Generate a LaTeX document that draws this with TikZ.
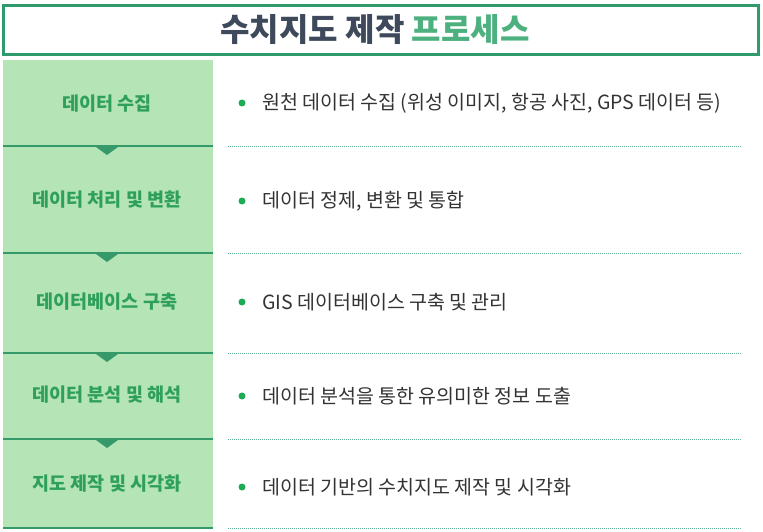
\documentclass[tikz,border=0pt]{standalone}
\usepackage{fontspec}
\setmainfont{Noto Sans CJK KR}
\definecolor{titleborder}{HTML}{2F9A6B}
\definecolor{titledark}{HTML}{3E4A5B}
\definecolor{titlegreen}{HTML}{4DB07F}
\definecolor{cellfill}{HTML}{B5E4B7}
\definecolor{linegreen}{HTML}{35996A}
\definecolor{labelgreen}{HTML}{2FA05C}
\definecolor{bulletgreen}{HTML}{1FAA55}
\definecolor{desctext}{HTML}{333333}
\definecolor{dotgreen}{HTML}{5DB09A}
\tikzset{
  rowlabel/.style={font=\fontsize{18.5}{22}\selectfont\bfseries, text=labelgreen, inner sep=0pt},
  desc/.style={font=\fontsize{19.5}{23}\selectfont, text=desctext, anchor=west, inner sep=0pt},
  bulletdot/.style={circle, fill=bulletgreen, minimum size=7pt, inner sep=0pt},
  sepline/.style={draw=linegreen, line width=2pt},
  dotline/.style={draw=dotgreen, line width=0.5pt, dash pattern=on 1.2pt off 0.8pt},
  tri/.style={fill=linegreen},
}
\begin{document}
\begin{tikzpicture}[x=1pt,y=-1pt]
\useasboundingbox (0,0) rectangle (763,532);
\fill[white] (0,0) rectangle (763,532);
% title
\node[draw=titleborder, line width=3pt, minimum width=755pt, minimum height=49pt, inner sep=0pt] (titlebox) at (381,30) {};
\node[inner sep=0pt] (title) at (375,30)
  {\fontsize{32}{36}\selectfont\bfseries\textcolor{titledark}{수치지도 제작} \textcolor{titlegreen}{프로세스}};
% left column fill
\fill[cellfill] (3,60) rectangle (213,528);
% separators
\foreach \y [count=\i] in {146,253,353,439,528} {
  \coordinate (la\i) at (3,\y);
  \coordinate (lb\i) at (213,\y);
  \coordinate (da\i) at (228,\y);
  \coordinate (db\i) at (741,\y);
  \draw[sepline] (la\i) -- (lb\i);
  \draw[dotline] (da\i) -- (db\i);
}
\foreach \y in {147,254,354,440} {
  \fill[tri] (96,\y) -- (118,\y) -- (107,\y+8) -- cycle;
}
% labels
\node[rowlabel] (l1) at (107,104) {데이터 수집};
\node[rowlabel] (l2) at (107,200) {데이터 처리 및 변환};
\node[rowlabel] (l3) at (107,302) {데이터베이스 구축};
\node[rowlabel] (l4) at (107,395) {데이터 분석 및 해석};
\node[rowlabel] (l5) at (107,484) {지도 제작 및 시각화};
% bullets and descriptions
\node[bulletdot] (b1) at (242,103) {};
\node[desc] (d1) at (262,103) {원천 데이터 수집 (위성 이미지, 항공 사진, GPS 데이터 등)};
\node[bulletdot] (b2) at (242,201) {};
\node[desc] (d2) at (262,201) {데이터 정제, 변환 및 통합};
\node[bulletdot] (b3) at (242,302) {};
\node[desc] (d3) at (262,302) {GIS 데이터베이스 구축 및 관리};
\node[bulletdot] (b4) at (242,396) {};
\node[desc] (d4) at (262,396) {데이터 분석을 통한 유의미한 정보 도출};
\node[bulletdot] (b5) at (242,487) {};
\node[desc] (d5) at (262,487) {데이터 기반의 수치지도 제작 및 시각화};
\end{tikzpicture}
\end{document}
